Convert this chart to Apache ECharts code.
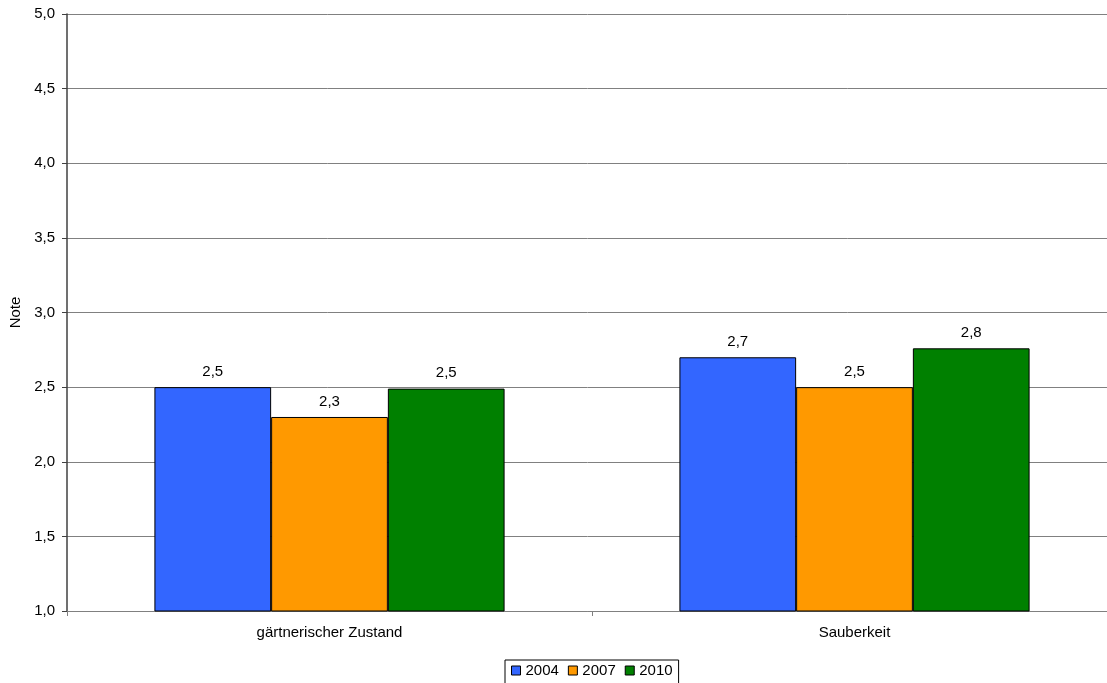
<!DOCTYPE html>
<html><head><meta charset="utf-8">
<script src="https://cdn.jsdelivr.net/npm/echarts@6/dist/echarts.min.js"></script>
<style>html,body{margin:0;padding:0;background:#fff}#c{width:1107px;height:683px}</style>
</head><body><div id="c"></div>
<script>
const categories = ['gärtnerischer Zustand', 'Sauberkeit'];
const seriesNames = ['2004', '2007', '2010'];
const values2004 = [2.5, 2.7];
const values2007 = [2.3, 2.5];
const values2010 = [2.49, 2.76];
const colors = ['#3366FF', '#FF9900', '#008000'];
const fmt = v => v.toFixed(1).replace('.', ',');
const chart = echarts.init(document.getElementById('c'));
const data = [values2004, values2007, values2010];
chart.setOption({
  animation: false,
  textStyle: { fontFamily: 'Liberation Sans, Arial, sans-serif' },
  grid: { left: 67, right: -10, top: 14, bottom: 72, containLabel: false, outerBoundsMode: 'none' },
  legend: {
    data: seriesNames.map(n => ({ name: n, itemStyle: { borderColor: '#000', borderWidth: 1 } })),
    top: 660, left: 505,
    borderColor: '#000', borderWidth: 1, padding: [3, 6, 8, 6],
    itemWidth: 9, itemHeight: 9, itemGap: 9,
    textStyle: { fontSize: 15, color: '#000' },
    icon: 'rect'
  },
  xAxis: {
    type: 'category', data: categories,
    axisLine: { lineStyle: { color: '#808080', width: 1 } },
    axisTick: { show: true, length: 5, lineStyle: { color: '#808080' } },
    axisLabel: { color: '#000', fontSize: 15, margin: 14 }
  },
  yAxis: {
    type: 'value', min: 1, max: 5, interval: 0.5,
    name: 'Note', nameLocation: 'middle', nameGap: 43, nameRotate: 90,
    nameTextStyle: { color: '#000', fontSize: 15 },
    axisLine: { show: true, lineStyle: { color: '#404040', width: 1.5 } },
    axisTick: { show: true, length: 5, inside: false, lineStyle: { color: '#404040' } },
    axisLabel: { color: '#000', fontSize: 15, margin: 12, formatter: v => v.toFixed(1).replace('.', ',') },
    splitLine: { show: true, lineStyle: { color: '#808080', width: 1 } }
  },
  series: seriesNames.map((n, i) => ({
    name: n, type: 'bar', data: data[i],
    barGap: '0%', barCategoryGap: '33.3%',
    itemStyle: { color: colors[i], borderColor: '#000', borderWidth: 1 },
    label: { show: true, position: 'top', distance: 8, color: '#000', fontSize: 15, formatter: p => fmt(p.value) }
  }))
});
</script></body></html>
